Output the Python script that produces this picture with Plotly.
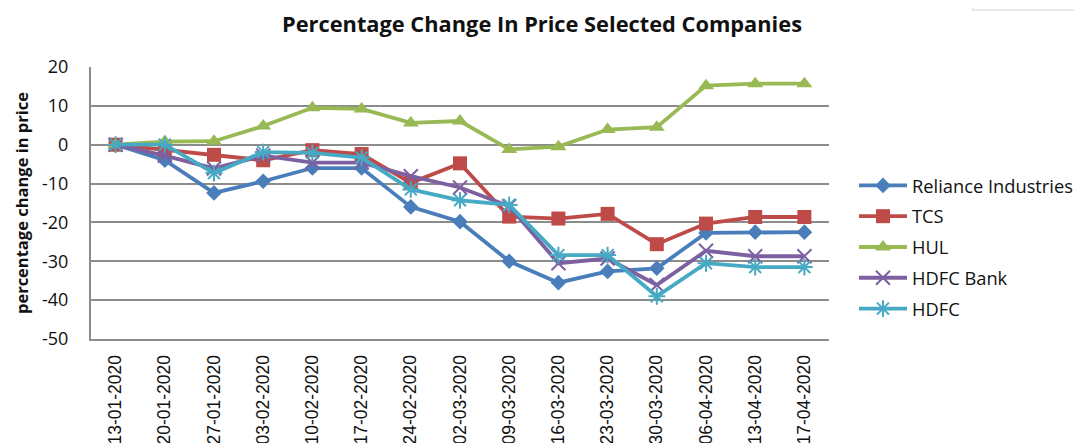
import plotly.graph_objects as go

dates = ["13-01-2020", "20-01-2020", "27-01-2020", "03-02-2020", "10-02-2020",
         "17-02-2020", "24-02-2020", "02-03-2020", "09-03-2020", "16-03-2020",
         "23-03-2020", "30-03-2020", "06-04-2020", "13-04-2020", "17-04-2020"]

reliance = [0, -4.0, -12.4, -9.4, -6.0, -6.0, -16.0, -19.8, -30.0, -35.5, -32.6, -31.8, -22.7, -22.5, -22.5]
tcs = [0, -1.4, -2.6, -4.0, -1.4, -2.4, -9.8, -4.8, -18.5, -19.0, -17.8, -25.6, -20.3, -18.6, -18.6]
hul = [0, 0.8, 0.9, 4.8, 9.5, 9.2, 5.6, 6.1, -1.2, -0.5, 3.9, 4.5, 15.2, 15.7, 15.7]
hdfc_bank = [0, -2.8, -6.1, -2.8, -4.6, -4.6, -8.1, -11.0, -15.8, -30.5, -29.3, -36.1, -27.3, -28.7, -28.7]
hdfc = [0, 0, -7.3, -1.9, -2.1, -3.3, -11.5, -14.3, -15.5, -28.4, -28.4, -39.0, -30.5, -31.5, -31.5]

series_names = ["Reliance Industries", "TCS", "HUL", "HDFC Bank", "HDFC"]
series_values = [reliance, tcs, hul, hdfc_bank, hdfc]
colors = ["#4A7EBB", "#BE4B48", "#98B954", "#7D60A0", "#46AAC5"]
symbols = ["diamond", "square", "triangle-up", "x-thin-open", "asterisk-open"]
sizes = [12, 14, 14, 14, 14]

y_ticks = [20, 10, 0, -10, -20, -30, -40, -50]

# The page body has an 8px default margin, so the figure is drawn offset by 8px.
OFF = 8
W_FIG, H_FIG = 1082 - OFF, 443 - OFF
# target plot-area edges in screen pixels
L, R, T, B = 91, 829, 67, 339

def px(x):
    return (x - L) / (R - L)

def py(y):
    return (B - y) / (B - T)

fig = go.Figure()
for name, vals, c, s, sz in zip(series_names, series_values, colors, symbols, sizes):
    fig.add_trace(go.Scatter(
        x=dates, y=vals, name=name, mode="lines+markers", legendgroup=name,
        line=dict(color=c, width=3.8),
        marker=dict(symbol=s, size=sz, color=c, line=dict(color=c, width=2 if "open" in s else 0)),
    ))

fig.update_layout(
    width=W_FIG, height=H_FIG,
    margin=dict(l=L - OFF, r=1082 - R, t=T - OFF, b=443 - B, autoexpand=False),
    paper_bgcolor="white", plot_bgcolor="white",
    title=dict(text="<b>Percentage Change In Price Selected Companies</b>",
               x=(542 - OFF) / W_FIG, xanchor="center", y=1 - (24 - OFF) / H_FIG, yanchor="middle",
               font=dict(family="Open Sans", size=21.8, color="#111111")),
    font=dict(family="Open Sans", color="#111111"),
    legend=dict(x=px(854), xanchor="left", y=py(247), yanchor="middle",
                font=dict(family="Open Sans", size=18.3, color="#111111"),
                tracegroupgap=4, itemwidth=48, bgcolor="rgba(0,0,0,0)"),
    showlegend=True,
)

fig.update_xaxes(
    type="category", categoryorder="array", categoryarray=dates,
    range=[-0.5, 14.5], tickangle=-90, showgrid=False, automargin=False,
    showline=True, linecolor="#8c8c8c", linewidth=2,
    tickfont=dict(family="Liberation Sans", size=17.5, color="#111111"),
    ticks="", ticklabelstandoff=7,
)
fig.update_yaxes(
    range=[-50, 20], tickvals=y_ticks, ticktext=[str(v) for v in y_ticks],
    showgrid=True, gridcolor="#8c8c8c", gridwidth=2, automargin=False,
    showline=True, linecolor="#8c8c8c", linewidth=2, zeroline=False,
    tickfont=dict(family="Open Sans", size=18, color="#111111"),
    ticks="", ticklabelstandoff=17,
    title=dict(text="<b>percentage change in price</b>", standoff=9,
               font=dict(family="Open Sans", size=16.5, color="#111111")),
)

# top-right page artifact (edge of a shadowed box)
fig.add_shape(type="rect", xref="paper", yref="paper",
              x0=px(973), x1=px(1090), y0=py(10), y1=py(-10),
              line=dict(color="#e2e2e2", width=1.5), fillcolor="white", layer="above")

fig.write_html("out.html")
